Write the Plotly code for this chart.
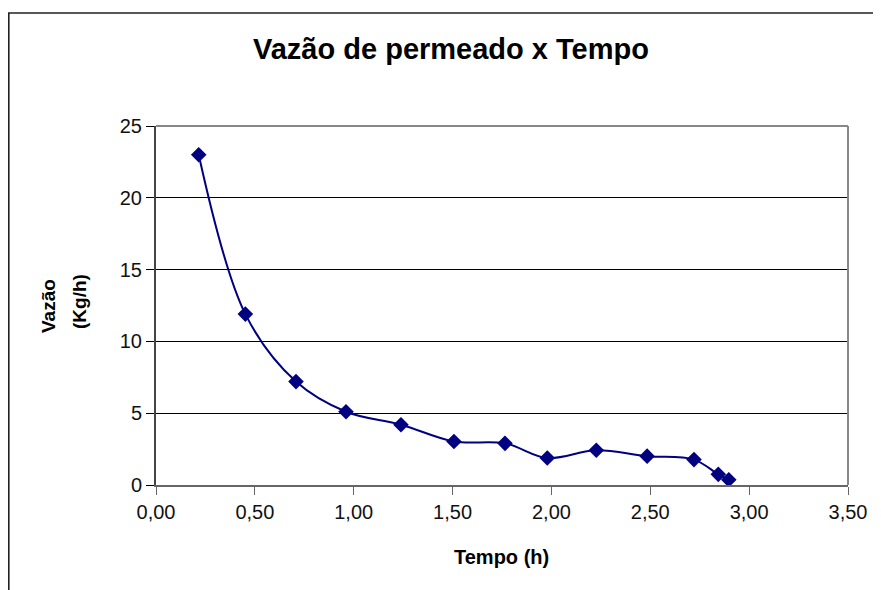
import plotly.graph_objects as go

# Data
tempo_h = [0.216, 0.452, 0.708, 0.961, 1.239, 1.507, 1.765, 1.979, 2.227, 2.484, 2.721, 2.844, 2.897]
vazao_kgh = [23.0, 11.9, 7.2, 5.1, 4.2, 3.03, 2.9, 1.88, 2.42, 2.01, 1.77, 0.74, 0.37]
x_ticks = [0, 0.5, 1.0, 1.5, 2.0, 2.5, 3.0, 3.5]
y_ticks = [0, 5, 10, 15, 20, 25]

title_text = "Vazão de permeado x Tempo"
x_title = "Tempo (h)"
y_title_1 = "Vazão"
y_title_2 = "(Kg/h)"

FONT = "Liberation Sans, Arial, sans-serif"
OFF = 8  # page body margin
W, H = 881, 590
# target page-pixel geometry of the plot area
PL, PR, PT, PB = 156, 848, 126, 485
L = PL - OFF
T = PT - OFF
R = W - (PR - OFF)
B = H - (PB - OFF)
pw = PR - PL
ph = PB - PT

def px_x(px):
    return (px - PL) / pw

def px_y(py):
    return (PB - py) / ph

fig = go.Figure()
fig.add_trace(go.Scatter(
    x=tempo_h, y=vazao_kgh, mode="lines+markers",
    line=dict(color="#000080", width=2, shape="spline", smoothing=1.0),
    marker=dict(symbol="diamond", size=12, color="#000080"),
    showlegend=False, hoverinfo="x+y",
))

fig.update_layout(
    width=W, height=H,
    margin=dict(l=L, r=R, t=T, b=B),
    paper_bgcolor="white", plot_bgcolor="white",
    separators=",.",
    font=dict(family=FONT, color="#000000"),
    xaxis=dict(range=[0, 3.5], tickvals=x_ticks, tickformat=".2f",
               showgrid=False, zeroline=False,
               showline=True, linecolor="#666666", linewidth=2,
               ticks="outside", ticklen=8, tickcolor="#666666", tickwidth=1,
               tickfont=dict(size=20, family=FONT, color="#111111")),
    yaxis=dict(range=[0, 25], tickvals=y_ticks,
               showgrid=True, gridcolor="#000000", gridwidth=1,
               zeroline=False,
               showline=True, linecolor="#444444", linewidth=2,
               ticks="outside", ticklen=8, tickcolor="#000000", tickwidth=1,
               tickfont=dict(size=20, family=FONT, color="#111111")),
    shapes=[
        # top & right border of plot area
        dict(type="line", xref="paper", yref="paper", x0=0, x1=1, y0=1, y1=1,
             line=dict(color="#888888", width=2)),
        dict(type="line", xref="paper", yref="paper", x0=1, x1=1, y0=0, y1=1,
             line=dict(color="#888888", width=2)),
        # outer chart border
        dict(type="rect", xref="paper", yref="paper",
             x0=px_x(8.8), x1=px_x(W + 30), y0=px_y(H + 30), y1=px_y(13),
             line=dict(color="#222222", width=1.6), fillcolor="rgba(0,0,0,0)", layer="below"),
    ],
    annotations=[
        dict(text="<b>" + title_text + "</b>", xref="paper", yref="paper",
             x=px_x(451), y=px_y(49), xanchor="center", yanchor="middle", showarrow=False,
             font=dict(size=29, family=FONT, color="#000000")),
        dict(text="<b>" + x_title + "</b>", xref="paper", yref="paper",
             x=px_x(501), y=px_y(557), xanchor="center", yanchor="middle", showarrow=False,
             font=dict(size=20, family=FONT, color="#000000")),
        dict(text="<b>" + y_title_1 + "</b>", xref="paper", yref="paper",
             x=px_x(48), y=px_y(306), xanchor="center", yanchor="middle", showarrow=False,
             textangle=-90, font=dict(size=19, family=FONT, color="#000000")),
        dict(text="<b>" + y_title_2 + "</b>", xref="paper", yref="paper",
             x=px_x(79), y=px_y(302), xanchor="center", yanchor="middle", showarrow=False,
             textangle=-90, font=dict(size=19, family=FONT, color="#000000")),
    ],
)

fig.write_html("out.html")
